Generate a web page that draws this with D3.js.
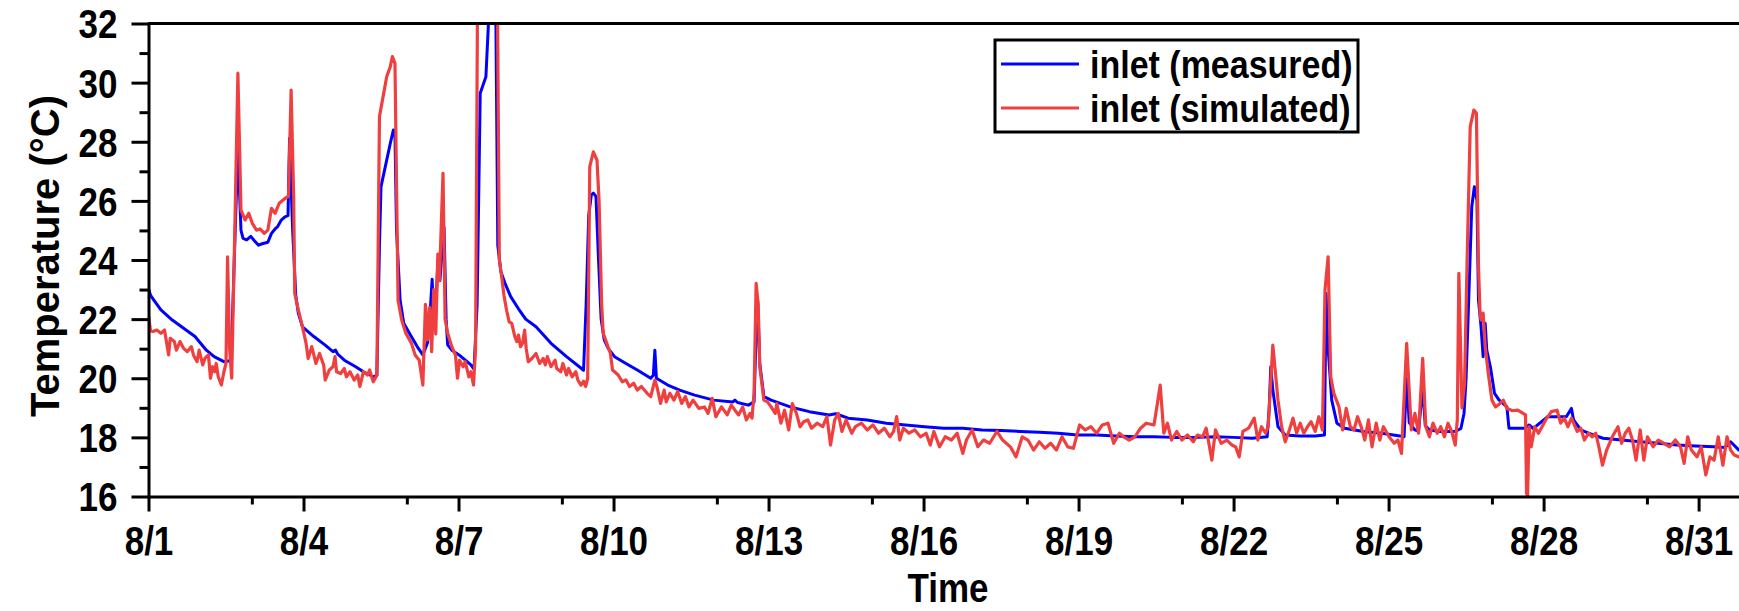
<!DOCTYPE html>
<html>
<head>
<meta charset="utf-8">
<script src="https://cdn.jsdelivr.net/npm/d3@7"></script>
<style>
	body { margin: 0; background: #fff; }
	svg text { font-family: "Liberation Sans", Arial, sans-serif; font-weight: bold; fill: #000; }
</style>
</head>
<body>
<div id="chart"></div>
<script>
// Series names / colours
const seriesNames = ["inlet (measured)", "inlet (simulated)"];
const seriesColors = ["#0000ff", "#ef3f3f"];

// Y ticks (major / minor)
const yMajor = [16, 18, 20, 22, 24, 26, 28, 30, 32];
const yMinor = [17, 19, 21, 23, 25, 27, 29, 31];

// [days since 8/1 00:00, temperature °C]
const measured = [
	[0.00,23.04],[0.04,22.8],[0.1,22.65],[0.24,22.31],[0.46,21.97],[0.68,21.69],[0.9,21.41],[1.12,20.95],[1.27,20.73],[1.46,20.56],
	[1.6,20.6],[1.66,24.0],[1.73,27.78],[1.79,25.0],[1.83,24.73],[1.9,24.68],[1.98,24.8],[2.05,24.65],[2.13,24.5],[2.2,24.55],
	[2.31,24.6],[2.38,24.9],[2.45,25.05],[2.5,25.13],[2.57,25.35],[2.64,25.46],[2.7,25.5],[2.73,28.12],[2.79,25.0],[2.85,22.8],
	[2.9,22.2],[2.98,21.74],[3.2,21.41],[3.42,21.12],[3.57,20.9],[3.62,20.95],[3.66,20.82],[3.79,20.61],[4.01,20.39],[4.16,20.22],
	[4.35,20.05],[4.42,20.1],[4.47,24.5],[4.5,26.48],[4.61,27.38],[4.68,27.95],[4.74,28.4],[4.77,28.3],[4.8,25.0],[4.87,22.64],
	[4.94,21.86],[5.05,21.52],[5.2,21.07],[5.31,20.79],[5.4,21.2],[5.46,22.5],[5.49,23.35],[5.52,22.0],[5.56,22.3],[5.6,24.0],
	[5.64,23.3],[5.69,24.5],[5.72,25.1],[5.76,22.0],[5.79,21.13],[5.87,20.95],[6.01,20.79],[6.24,20.45],[6.3,20.3],[6.36,22.5],
	[6.42,29.64],[6.53,30.2],[6.59,32.4],[6.65,33.0],[6.72,32.8],[6.76,24.5],[6.82,23.6],[6.9,23.21],[7.01,22.76],[7.16,22.35],
	[7.3,22.0],[7.5,21.74],[7.79,21.18],[8.09,20.73],[8.38,20.33],[8.42,20.27],[8.47,22.5],[8.52,25.5],[8.57,26.2],[8.61,26.26],
	[8.66,26.15],[8.71,24.0],[8.76,22.0],[8.82,21.3],[8.9,21.0],[9.02,20.73],[9.24,20.5],[9.46,20.28],[9.72,20.0],[9.77,20.1],
	[9.8,20.95],[9.83,20.0],[10.05,19.77],[10.28,19.6],[10.57,19.43],[10.94,19.26],[11.31,19.2],[11.35,19.26],[11.4,19.18],[11.61,19.09],
	[11.66,19.14],[11.72,19.2],[11.76,21.5],[11.79,22.6],[11.83,20.5],[11.91,19.38],[12.05,19.26],[12.42,19.03],[12.79,18.87],[13.17,18.76],
	[13.3,18.8],[13.54,18.65],[13.91,18.59],[14.28,18.48],[14.65,18.42],[15.02,18.36],[15.39,18.31],[15.76,18.31],[16.13,18.25],[16.5,18.23],
	[16.87,18.2],[17.24,18.17],[17.61,18.14],[17.98,18.08],[18.35,18.08],[18.72,18.05],[19.09,18.02],[19.46,18.02],[19.83,18.0],[20.29,18.0],
	[20.65,18.02],[21.0,18.0],[21.36,17.97],[21.65,18.02],[21.69,19.0],[21.72,20.39],[21.76,19.6],[21.86,18.36],[22.0,18.08],[22.29,18.05],
	[22.58,18.05],[22.76,18.08],[22.79,22.87],[22.83,21.0],[22.9,19.26],[23.0,18.48],[23.15,18.31],[23.51,18.2],[23.87,18.14],[24.22,18.05],
	[24.3,18.02],[24.35,20.0],[24.4,18.5],[24.51,18.25],[24.58,18.2],[24.66,19.7],[24.71,18.4],[24.79,18.25],[25.0,18.2],[25.29,18.2],
	[25.4,18.3],[25.46,18.81],[25.5,20.0],[25.54,22.08],[25.61,25.8],[25.66,26.48],[25.71,26.03],[25.74,22.64],[25.79,21.74],[25.83,20.73],
	[25.87,21.86],[25.9,20.95],[25.97,20.39],[26.05,19.49],[26.14,19.26],[26.29,19.03],[26.33,18.31],[26.65,18.31],[26.72,18.42],[26.8,18.3],
	[27.08,18.7],[27.44,18.7],[27.54,18.98],[27.58,18.59],[27.72,18.25],[27.87,18.14],[28.15,17.97],[28.51,17.91],[28.87,17.85],[29.22,17.8],
	[29.58,17.74],[29.94,17.71],[30.29,17.68],[30.51,17.66],[30.62,17.85],[30.78,17.57],[30.9,17.5]
];

const simulated = [
	[0.0,22.15],[0.04,21.6],[0.09,21.58],[0.16,21.63],[0.24,21.52],[0.31,21.63],[0.39,20.79],[0.42,21.35],[0.5,21.24],[0.54,20.95],
	[0.61,21.24],[0.68,21.01],[0.75,20.9],[0.83,21.07],[0.87,20.79],[0.94,20.56],[0.98,20.95],[1.05,20.45],[1.09,20.67],[1.16,20.79],
	[1.2,20.0],[1.24,20.39],[1.28,20.22],[1.31,20.5],[1.35,20.05],[1.41,19.77],[1.46,20.22],[1.5,20.5],[1.53,24.11],[1.57,21.0],
	[1.61,20.0],[1.67,25.0],[1.73,30.32],[1.79,25.69],[1.87,25.35],[1.94,25.58],[2.01,25.24],[2.09,25.01],[2.16,25.05],[2.24,24.9],
	[2.31,25.01],[2.38,25.75],[2.45,25.58],[2.53,25.92],[2.64,26.08],[2.71,26.15],[2.76,29.75],[2.81,26.1],[2.83,22.87],[2.9,22.31],
	[2.98,21.74],[3.05,21.18],[3.09,20.67],[3.16,21.07],[3.2,20.79],[3.24,20.5],[3.31,20.84],[3.39,20.45],[3.42,19.94],[3.5,20.28],
	[3.57,20.39],[3.61,20.73],[3.64,20.22],[3.72,20.16],[3.79,20.33],[3.83,20.05],[3.9,20.22],[3.98,19.94],[4.05,20.11],[4.09,19.72],
	[4.16,20.22],[4.24,20.11],[4.28,20.28],[4.35,19.88],[4.42,20.1],[4.47,28.85],[4.61,30.2],[4.68,30.54],[4.72,30.88],[4.77,30.65],
	[4.83,22.64],[4.9,21.97],[4.98,21.52],[5.09,21.18],[5.16,20.79],[5.24,20.61],[5.31,19.77],[5.36,22.5],[5.4,21.3],[5.44,22.4],
	[5.48,20.9],[5.52,23.0],[5.56,21.5],[5.6,24.2],[5.63,23.3],[5.7,26.93],[5.74,22.0],[5.79,21.52],[5.87,21.07],[5.94,20.79],
	[5.98,20.0],[6.02,20.61],[6.09,20.39],[6.13,20.56],[6.2,20.05],[6.24,20.22],[6.29,19.77],[6.33,21.0],[6.37,33.5],[6.5,34],
	[6.65,34],[6.75,33.5],[6.79,24.0],[6.83,23.5],[6.88,22.8],[6.93,22.3],[6.98,21.91],[7.03,21.86],[7.09,21.41],[7.13,21.24],
	[7.16,21.46],[7.2,21.07],[7.24,21.18],[7.28,21.63],[7.31,21.01],[7.35,20.56],[7.42,20.67],[7.5,20.84],[7.57,20.5],[7.64,20.67],
	[7.68,20.45],[7.72,20.73],[7.79,20.39],[7.87,20.61],[7.9,20.33],[7.98,20.22],[8.02,20.5],[8.09,20.11],[8.13,20.33],[8.2,20.05],
	[8.27,20.22],[8.31,19.94],[8.37,19.77],[8.42,19.9],[8.46,19.72],[8.5,20.0],[8.54,27.16],[8.61,27.66],[8.68,27.38],[8.72,26.0],
	[8.77,22.5],[8.8,21.52],[8.87,21.18],[8.94,20.84],[8.98,20.28],[9.02,20.22],[9.09,20.11],[9.17,19.88],[9.24,19.94],[9.31,19.72],
	[9.39,19.83],[9.46,19.6],[9.54,19.72],[9.65,19.49],[9.72,19.38],[9.8,19.94],[9.84,19.72],[9.91,19.15],[9.98,19.6],[10.02,19.2],
	[10.09,19.49],[10.17,19.26],[10.24,19.55],[10.32,19.15],[10.39,19.38],[10.46,19.03],[10.54,19.26],[10.65,18.98],[10.76,19.03],[10.83,18.81],
	[10.91,19.32],[10.98,18.7],[11.09,19.03],[11.2,18.76],[11.28,19.09],[11.35,18.92],[11.42,18.76],[11.5,19.03],[11.57,18.59],[11.64,18.81],
	[11.68,18.65],[11.72,19.5],[11.76,23.21],[11.8,22.5],[11.83,20.39],[11.91,19.26],[11.98,19.2],[12.05,19.03],[12.13,18.81],[12.16,19.14],
	[12.24,18.48],[12.31,18.92],[12.39,18.25],[12.46,19.14],[12.54,18.81],[12.61,18.36],[12.68,18.53],[12.76,18.59],[12.83,18.31],[12.94,18.48],
	[13.05,18.36],[13.13,18.7],[13.2,17.74],[13.28,18.59],[13.35,18.81],[13.42,18.2],[13.5,18.59],[13.61,18.14],[13.68,18.36],[13.8,18.48],
	[13.91,18.25],[14.02,18.42],[14.13,18.14],[14.24,18.31],[14.35,18.02],[14.42,18.2],[14.48,18.7],[14.54,17.91],[14.61,18.31],[14.72,18.14],
	[14.83,18.25],[14.94,18.02],[15.05,18.14],[15.13,17.74],[15.2,18.2],[15.31,17.68],[15.42,18.02],[15.54,17.91],[15.65,18.14],[15.76,17.46],
	[15.83,17.91],[15.94,18.25],[16.05,17.68],[16.16,17.91],[16.28,17.8],[16.42,18.2],[16.53,17.91],[16.68,17.68],[16.79,17.34],[16.91,18.02],
	[17.02,17.91],[17.13,17.57],[17.24,17.85],[17.35,17.63],[17.46,17.8],[17.57,17.57],[17.68,18.02],[17.79,17.68],[17.9,17.63],[18.02,18.42],
	[18.13,18.25],[18.24,18.36],[18.35,18.14],[18.46,18.42],[18.57,18.48],[18.68,17.8],[18.79,18.14],[18.87,18.02],[18.98,17.91],[19.09,18.02],
	[19.2,18.31],[19.31,18.48],[19.46,18.42],[19.53,19.2],[19.58,19.77],[19.65,18.14],[19.72,18.48],[19.8,17.91],[19.9,18.2],[20.0,17.91],
	[20.11,18.08],[20.22,17.85],[20.3,18.08],[20.4,18.02],[20.47,18.31],[20.58,17.23],[20.65,18.25],[20.76,17.8],[20.87,17.91],[20.97,17.74],
	[21.04,17.68],[21.11,17.34],[21.18,18.2],[21.29,18.31],[21.4,18.65],[21.47,17.91],[21.54,18.36],[21.62,18.14],[21.67,18.36],[21.76,21.12],
	[21.86,19.26],[21.93,18.36],[22.0,17.85],[22.08,18.25],[22.15,18.65],[22.22,18.14],[22.29,18.48],[22.36,18.14],[22.43,18.36],[22.5,18.53],
	[22.58,18.2],[22.65,18.7],[22.72,18.25],[22.77,23.0],[22.83,24.11],[22.88,20.06],[22.94,19.49],[22.99,19.26],[23.04,19.03],[23.11,18.25],
	[23.18,18.98],[23.26,18.36],[23.33,18.25],[23.4,18.7],[23.47,18.36],[23.54,17.91],[23.61,18.59],[23.68,17.68],[23.76,18.48],[23.83,17.91],
	[23.9,18.36],[24.01,18.02],[24.11,17.8],[24.18,17.91],[24.25,17.46],[24.35,21.18],[24.44,18.25],[24.51,18.81],[24.58,18.14],[24.66,20.67],
	[24.72,18.36],[24.79,18.02],[24.86,18.48],[24.94,18.14],[25.01,18.36],[25.08,18.02],[25.15,18.48],[25.22,18.2],[25.29,17.74],[25.33,18.59],
	[25.36,23.55],[25.42,19.0],[25.47,19.8],[25.52,24.0],[25.58,28.51],[25.65,29.07],[25.7,28.96],[25.74,23.8],[25.77,22.2],[25.79,21.97],
	[25.83,22.2],[25.87,21.07],[25.93,20.16],[26.0,19.26],[26.07,19.03],[26.15,19.14],[26.22,19.26],[26.29,18.98],[26.4,18.9],[26.5,18.92],
	[26.65,18.76],[26.67,16.11],[26.69,16.0],[26.72,18.36],[26.76,17.68],[26.83,18.36],[26.9,18.14],[26.97,18.36],[27.04,18.59],[27.15,18.87],
	[27.26,18.92],[27.33,18.48],[27.4,18.65],[27.47,18.36],[27.54,18.65],[27.65,18.2],[27.72,18.31],[27.79,17.91],[27.87,18.14],[27.94,18.02],
	[28.01,18.14],[28.07,17.68],[28.14,17.06],[28.22,17.57],[28.33,18.02],[28.44,18.36],[28.51,17.8],[28.58,18.14],[28.65,18.31],[28.72,17.91],
	[28.79,17.23],[28.87,18.25],[28.94,17.23],[29.01,18.02],[29.12,17.68],[29.22,17.91],[29.33,17.8],[29.44,17.68],[29.55,17.91],[29.65,17.68],
	[29.72,17.12],[29.79,18.02],[29.86,17.57],[29.97,17.34],[30.05,17.68],[30.14,16.73],[30.22,17.34],[30.3,17.23],[30.38,18.02],[30.47,17.06],
	[30.55,18.02],[30.62,17.57],[30.69,17.4],[30.78,17.34],[30.9,17.3]
];

const width = 1739, height = 611;
const margin = { left: 148.5, top: 23.5, bottom: 114.5 };
const pxPerDay = 51.67;
const lastDay = 30.9;
const tickFont = 35;
const stretch = 1.15; // text in the figure is slightly taller than plain Arial

const t0 = new Date(2019, 7, 1);
const toDate = d => new Date(t0.getTime() + d * 864e5);

const svg = d3.select('#chart').append('svg')
	.attr('width', width)
	.attr('height', height);

// Scales
const x = d3.scaleTime()
	.domain([toDate(0), toDate(lastDay)])
	.range([margin.left, margin.left + lastDay * pxPerDay]);

const y = d3.scaleLinear()
	.domain([16, 32])
	.range([height - margin.bottom, margin.top]);

const majorDays = d3.timeDay.every(3).range(toDate(0), toDate(lastDay));
const minorDays = d3.timeDay.range(toDate(0), toDate(lastDay)).filter(d => d.getDate() % 3 === 0);

// Lines
svg.append('clipPath')
	.attr('id', 'plot-clip')
	.append('rect')
	.attr('x', margin.left)
	.attr('y', margin.top)
	.attr('width', width - margin.left)
	.attr('height', y(16) - margin.top);

const line = d3.line()
	.x(d => x(toDate(d[0])))
	.y(d => y(d[1]));

const plot = svg.append('g').attr('clip-path', 'url(#plot-clip)');
[measured, simulated].forEach((s, i) => {
	plot.append('path')
		.datum(s)
		.attr('fill', 'none')
		.attr('stroke', seriesColors[i])
		.attr('stroke-width', i ? 3.2 : 3)
		.attr('stroke-linejoin', 'round')
		.attr('d', line);
});

// Axes
function styleAxis(g, dx, base) {
	g.attr('font-size', null).attr('font-family', null);
	g.select('.domain').attr('stroke-width', 3).attr('stroke-linecap', 'square');
	g.selectAll('.tick line').attr('stroke-width', 3);
	g.selectAll('.tick text')
		.attr('font-size', tickFont)
		.attr('x', 0).attr('y', 0).attr('dy', 0)
		.attr('transform', `translate(${dx},${base}) scale(1,${stretch})`);
}

const capHalf = 0.716 * tickFont * stretch / 2;

svg.append('g')
	.attr('transform', `translate(0,${y(16)})`)
	.call(d3.axisBottom(x).tickValues(minorDays).tickSize(8).tickFormat(''))
	.call(g => g.select('.domain').remove())
	.call(g => g.selectAll('.tick line').attr('stroke-width', 3));

svg.append('g')
	.attr('transform', `translate(0,${y(16)})`)
	.call(d3.axisBottom(x).tickValues(majorDays).tickSize(15).tickSizeOuter(0)
		.tickFormat(d3.timeFormat('%-m/%-d')))
	.call(g => styleAxis(g, 0, 44.5 + capHalf));

svg.append('g')
	.attr('transform', `translate(${margin.left},0)`)
	.call(d3.axisLeft(y).tickValues(yMinor).tickSize(9).tickFormat(''))
	.call(g => g.select('.domain').remove())
	.call(g => g.selectAll('.tick line').attr('stroke-width', 3));

svg.append('g')
	.attr('transform', `translate(${margin.left},0)`)
	.call(d3.axisLeft(y).tickValues(yMajor).tickSize(17).tickSizeOuter(0))
	.call(g => styleAxis(g, -31, capHalf));

// Top frame line
svg.append('line')
	.attr('x1', margin.left).attr('x2', width)
	.attr('y1', y(32)).attr('y2', y(32))
	.attr('stroke', '#000').attr('stroke-width', 3);

// Axis titles
svg.append('text')
	.attr('transform', `translate(948,602) scale(1,${stretch})`)
	.attr('text-anchor', 'middle')
	.attr('font-size', tickFont)
	.text('Time');

svg.append('text')
	.attr('transform', `translate(59,${(y(16) + y(32)) / 2 - 4}) rotate(-90)`)
	.attr('text-anchor', 'middle')
	.attr('font-size', 40)
	.text('Temperature (°C)');

// Legend
const legend = svg.append('g').attr('transform', 'translate(995,40)');
legend.append('rect')
	.attr('width', 363).attr('height', 92)
	.attr('fill', '#fff').attr('stroke', '#000').attr('stroke-width', 3);

seriesNames.forEach((name, i) => {
	const row = legend.append('g').attr('transform', `translate(0,${24 + i * 44})`);
	row.append('line')
		.attr('x1', 6).attr('x2', 84)
		.attr('stroke', seriesColors[i]).attr('stroke-width', 3);
	row.append('text')
		.attr('transform', `translate(95,${0.716 * 34 * stretch / 2}) scale(1,${stretch})`)
		.attr('font-size', 34)
		.text(name);
});
</script>
</body>
</html>
